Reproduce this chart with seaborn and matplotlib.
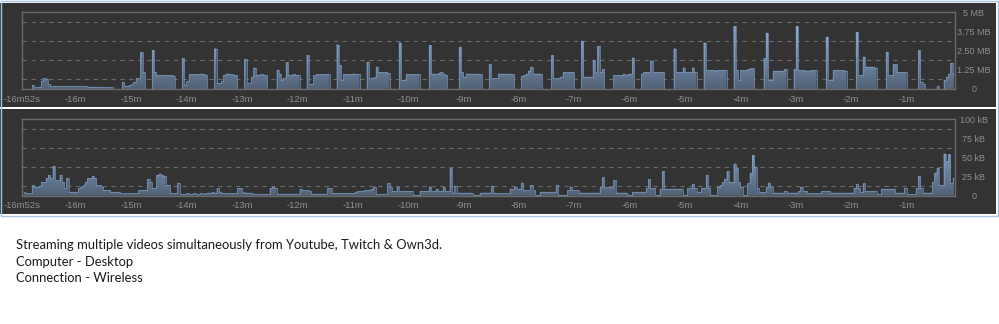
import numpy as np
import pandas as pd
import matplotlib
matplotlib.use("Agg")
import matplotlib.pyplot as plt
import seaborn as sns
from matplotlib.patches import Rectangle
from matplotlib.colors import LinearSegmentedColormap

sns.set_style("dark")
plt.rcParams["font.family"] = ["Liberation Sans", "DejaVu Sans"]

# ---------------- data ----------------
seconds_ago = np.arange(-1016.25, -8.0, 2.5)  # one sample every 2.5 s

download_mb = [
    0, 0, 0, 0, 0.25, 0.1, 0.1, 0.15, 0.55, 0.7, 0.65, 0.3, 0.2, 0.2, 0.2, 0.2, 0.2, 0.18, 0.2, 0.18,
    0.2, 0.2, 0.18, 0.18, 0.18, 0.17, 0.17, 0.17, 0.15, 0.15, 0.15, 0.15, 0.15, 0.13, 0.13, 0.13, 0.12, 0.12, 0.12, 0,
    0, 0, 0, 0.47, 0.2, 0.2, 0.25, 0.3, 0.45, 0.7, 0.7, 2.38, 1.1, 0, 0, 0, 2.53, 1.1, 0.9, 0.9,
    0.9, 0.92, 0.9, 0.9, 0.9, 0.85, 0, 0, 0, 2.0, 0.26, 0.5, 0.97, 0.95, 0.97, 0.97, 0.97, 1.0, 0.97, 0.9,
    0, 0, 0, 2.64, 0.4, 0.4, 0.5, 0.9, 1.0, 1.0, 0.95, 0.93, 0.9, 0, 0, 0, 1.95, 0.4, 0.4, 0.8,
    1.4, 0.93, 0.93, 0.95, 0.93, 0.9, 0, 0, 0, 0, 1.25, 1.0, 0.6, 0.7, 1.73, 0.93, 0.93, 0.95, 0.93, 0.9,
    0, 0, 0, 2.2, 0.3, 0.35, 0.9, 0.95, 0.97, 0.97, 0.97, 0.97, 0.95, 0, 0, 0, 2.9, 1.56, 0.6, 0.97,
    0.97, 0.97, 0.97, 1.0, 0.97, 0.95, 0, 0, 0, 1.77, 0.7, 0.7, 0.75, 1.45, 1.1, 1.1, 1.1, 1.1, 1.05, 0,
    0, 0, 0, 3.03, 0.58, 0.6, 0.97, 0.97, 0.97, 0.97, 0.97, 0.95, 0, 0, 0, 0, 2.86, 1.0, 1.0, 0.97,
    1.05, 1.1, 0.97, 0.9, 0, 0, 0, 0, 0, 2.75, 1.1, 0.8, 1.0, 1.0, 1.0, 1.0, 1.0, 1.0, 0.95, 0,
    0, 0, 1.62, 0.7, 0.7, 0.7, 1.0, 1.0, 1.0, 1.0, 1.0, 1.0, 0.95, 0, 0, 0, 0.85, 0.9, 1.0, 1.2,
    1.45, 1.0, 1.0, 1.0, 1.0, 0, 0, 0, 0, 2.2, 0.7, 0.7, 0.7, 0.8, 1.1, 1.1, 1.1, 1.1, 1.1, 0,
    0, 0, 3.14, 0.8, 0.8, 0.8, 0.8, 1.88, 1.1, 2.79, 1.1, 1.3, 0, 0, 0, 0, 0.9, 0.9, 0.9, 0.9,
    1.0, 0.9, 0.95, 1.0, 2.05, 0, 0, 0, 1.0, 1.1, 1.1, 1.1, 1.84, 1.1, 1.1, 1.1, 1.1, 1.1, 0, 0,
    0, 0, 2.64, 1.1, 1.1, 1.1, 1.4, 1.1, 1.1, 1.1, 1.4, 1.1, 0, 0, 0, 3.03, 1.23, 1.23, 1.23, 1.23,
    1.2, 1.23, 1.23, 1.23, 1.23, 0, 0, 0, 4.09, 1.23, 0.6, 1.23, 1.23, 1.23, 1.3, 1.34, 1.34, 0, 0, 0,
    0, 2.0, 3.66, 0.6, 0.6, 1.19, 1.19, 1.19, 1.19, 1.19, 1.3, 0, 0, 0, 1.3, 4.09, 1.23, 1.23, 1.23, 1.2,
    1.2, 1.23, 1.23, 1.23, 0, 0, 0, 0, 3.4, 0.6, 0.6, 1.23, 1.23, 1.23, 1.23, 1.23, 1.2, 0, 0, 0,
    0, 3.72, 0.9, 0.9, 2.1, 1.45, 1.45, 1.45, 1.45, 1.4, 0, 0, 0, 0, 2.42, 0.9, 0.9, 1.6, 1.6, 1.1,
    1.1, 1.1, 1.1, 0, 0, 0, 0, 0, 2.53, 0.47, 0.3, 0, 0, 0, 0, 0, 0.2, 0, 0, 0.6,
    0.8, 1.0, 1.7, 1.0,
]

upload_kb = [
    5, 4, 3, 3, 14, 12, 12, 13, 18, 18, 23, 27, 23, 39, 20, 20, 27, 18, 10, 23,
    5, 5, 5, 5, 10, 12, 14, 18, 23, 23, 26, 23, 14, 14, 12, 7.5, 7.5, 7.5, 5, 5,
    5, 5, 3, 3, 3, 3, 3, 3, 3, 3, 7.5, 7.5, 7.5, 7.5, 22, 18, 10, 10, 27, 29,
    27, 26, 14, 14, 3, 3, 3, 17, 2, 2, 2, 3, 2, 2, 3, 2, 2, 3, 2, 3,
    4, 4, 5, 4, 10, 5, 4, 3, 3, 3, 3, 3, 3, 10, 10, 5, 4, 4, 4, 3,
    2, 2, 2, 2, 2, 2, 2, 10, 12, 10, 2.5, 2.5, 2.5, 2.5, 2.5, 2.5, 2.5, 2.5, 2.5, 2.5,
    9, 7, 7, 7, 6, 2.5, 2.5, 2.5, 2.5, 2.5, 2.5, 2.5, 10, 10, 3.5, 3.5, 3.5, 3.5, 3.5, 3.5,
    3.5, 3.5, 3.5, 3.5, 5, 6, 6, 6, 7, 7, 8, 9, 12, 2, 2, 2, 2, 2, 16, 12,
    6, 6, 11, 6, 6, 6, 6, 6, 6, 1, 1, 1, 6, 6, 6, 6, 12, 6, 6, 9,
    6, 6, 11, 6, 6, 36, 4, 13, 4, 4, 4, 4, 4, 4, 4, 1, 1, 1, 4, 4,
    4, 4, 4, 13, 4, 3, 3, 3, 3, 3, 3, 9, 9, 12, 9, 9, 17, 7, 7, 7,
    14, 7, 1, 1, 5, 5, 5, 5, 5, 5, 5, 14, 1, 1, 1, 1, 7, 12, 7, 7,
    7, 4, 4, 4, 4, 4, 4, 4, 4, 4, 11, 24, 11, 11, 11, 11, 20, 4, 4, 4,
    4, 4, 1, 1, 5, 5, 5, 5, 5, 5, 10, 22, 10, 10, 1, 1, 9, 32, 9, 9,
    9, 9, 9, 9, 9, 9, 1, 1, 10, 10, 15, 10, 5, 5, 10, 10, 27, 10, 1, 1,
    1, 12, 14, 18, 22, 32, 18, 18, 42, 36, 18, 12, 1, 1, 16, 30, 53, 38, 10, 5,
    5, 5, 12, 17, 12, 4, 4, 4, 4, 4, 6, 4, 4, 4, 4, 4, 6, 12, 6, 6,
    3, 3, 3, 3, 3, 3, 6, 6, 6, 6, 4, 4, 4, 4, 4, 4, 4, 4, 4, 4,
    10, 15, 10, 5, 16, 6, 6, 6, 6, 6, 2, 2, 9, 9, 9, 9, 9, 9, 4, 4,
    4, 4, 10, 2, 2, 2, 2, 10, 26, 10, 4, 4, 4, 4, 18, 30, 36, 14, 14, 55,
    45, 54, 16, 23,
]

time_ticks = [-960, -900, -840, -780, -720, -660, -600, -540,
              -480, -420, -360, -300, -240, -180, -120, -60]
time_labels = ["-16m", "-15m", "-14m", "-13m", "-12m", "-11m", "-10m", "-9m",
               "-8m", "-7m", "-6m", "-5m", "-4m", "-3m", "-2m", "-1m"]
start_label = "-16m52s"

dl_ticks = [0, 1.25, 2.5, 3.75, 5]
dl_labels = ["0", "1.25 MB", "2.50 MB", "3.75 MB", "5 MB"]
ul_ticks = [0, 25, 50, 75, 100]
ul_labels = ["0", "25 kB", "50 kB", "75 kB", "100 kB"]

caption_lines = [
    "Streaming multiple videos simultaneously from Youtube, Twitch & Own3d.",
    "Computer - Desktop",
    "Connection - Wireless",
]

df = pd.DataFrame({"t": seconds_ago, "down": download_mb, "up": upload_kb})

# ---------------- layout ----------------
W, H = 999, 324
fig = plt.figure(figsize=(W / 100, H / 100), dpi=100)
fig.patch.set_facecolor("white")

def fx(px):
    return px / W

def fy(py):
    return 1 - py / H

PANEL = "#333333"
FRAME = "#6b6b6b"
GRID = "#6a6a6a"
TICKC = "#8f8f8f"

# dark panels (behind the axes)
fig.patches.append(Rectangle((0, fy(106.5)), fx(995.5), fy(3) - fy(106.5),
                             transform=fig.transFigure, facecolor=PANEL,
                             edgecolor="none", zorder=-3))
fig.patches.append(Rectangle((0, fy(213.5)), fx(995.5), fy(108.5) - fy(213.5),
                             transform=fig.transFigure, facecolor=PANEL,
                             edgecolor="none", zorder=-3))
# light-blue outer border
fig.patches.append(Rectangle((fx(0.5), fy(216)), fx(997), fy(1) - fy(216),
                             transform=fig.transFigure, facecolor="none",
                             edgecolor="#a3c1e3", lw=1.0, zorder=-2))

xmin, xmax = -1018.5, -7.6
cmap = LinearSegmentedColormap.from_list("bw", ["#526276", "#a0c6f0"])

def make_panel(top_px, bot_px, col, ymax, minor_step, ticks, labels):
    ax = fig.add_axes([fx(21.7), fy(bot_px), fx(955) - fx(21.7), fy(top_px) - fy(bot_px)])
    ax.set_zorder(2)
    ax.set_facecolor(PANEL)
    poly = ax.fill_between(df["t"], df[col], step="mid", color="none", lw=0, zorder=2)
    grad = np.linspace(0, 1, 256).reshape(-1, 1)
    img = ax.imshow(grad, extent=[xmin, xmax, 0, ymax], aspect="auto",
                    origin="lower", cmap=cmap, zorder=2)
    img.set_clip_path(poly.get_paths()[0], transform=ax.transData)
    sns.lineplot(data=df, x="t", y=col, ax=ax, drawstyle="steps-mid",
                 color="#7c9fc9", lw=0.45, zorder=3)
    ax.set_xlim(xmin, xmax)
    ax.set_ylim(0, ymax)
    ax.set_xlabel("")
    ax.set_ylabel("")
    # grid
    ax.set_yticks(np.arange(0, ymax + 1e-9, minor_step), minor=True)
    ax.grid(False)
    ax.grid(which="minor", axis="y", color=GRID, lw=0.8, ls=(0, (4, 4)))
    ax.set_axisbelow(True)
    for s in ax.spines.values():
        s.set_visible(True)
        s.set_color(FRAME)
        s.set_linewidth(1.0)
    # x ticks
    ax.set_xticks([xmin] + time_ticks)
    ax.set_xticklabels([start_label] + time_labels)
    ax.tick_params(axis="x", length=0, pad=4, labelsize=6.8, labelcolor=TICKC)
    # y ticks on the right
    ax.yaxis.tick_right()
    ax.set_yticks(ticks)
    ax.set_yticklabels(labels)
    ax.tick_params(axis="y", which="both", length=0, pad=13.5, labelsize=6.5,
                   labelcolor=TICKC)
    for lab in ax.get_yticklabels():
        lab.set_horizontalalignment("center")
    return ax

make_panel(12.3, 89, "down", 5, 0.625, dl_ticks, dl_labels)
make_panel(119.3, 195.7, "up", 100, 12.5, ul_ticks, ul_labels)

for i, line in enumerate(caption_lines):
    fig.text(fx(16.5), fy(245 + i * 16.7), line, ha="left", va="center",
             fontsize=9.35, family=["Lato", "DejaVu Sans"], color="#1a1a1a")

fig.savefig("out.png", dpi=100, facecolor="white")
